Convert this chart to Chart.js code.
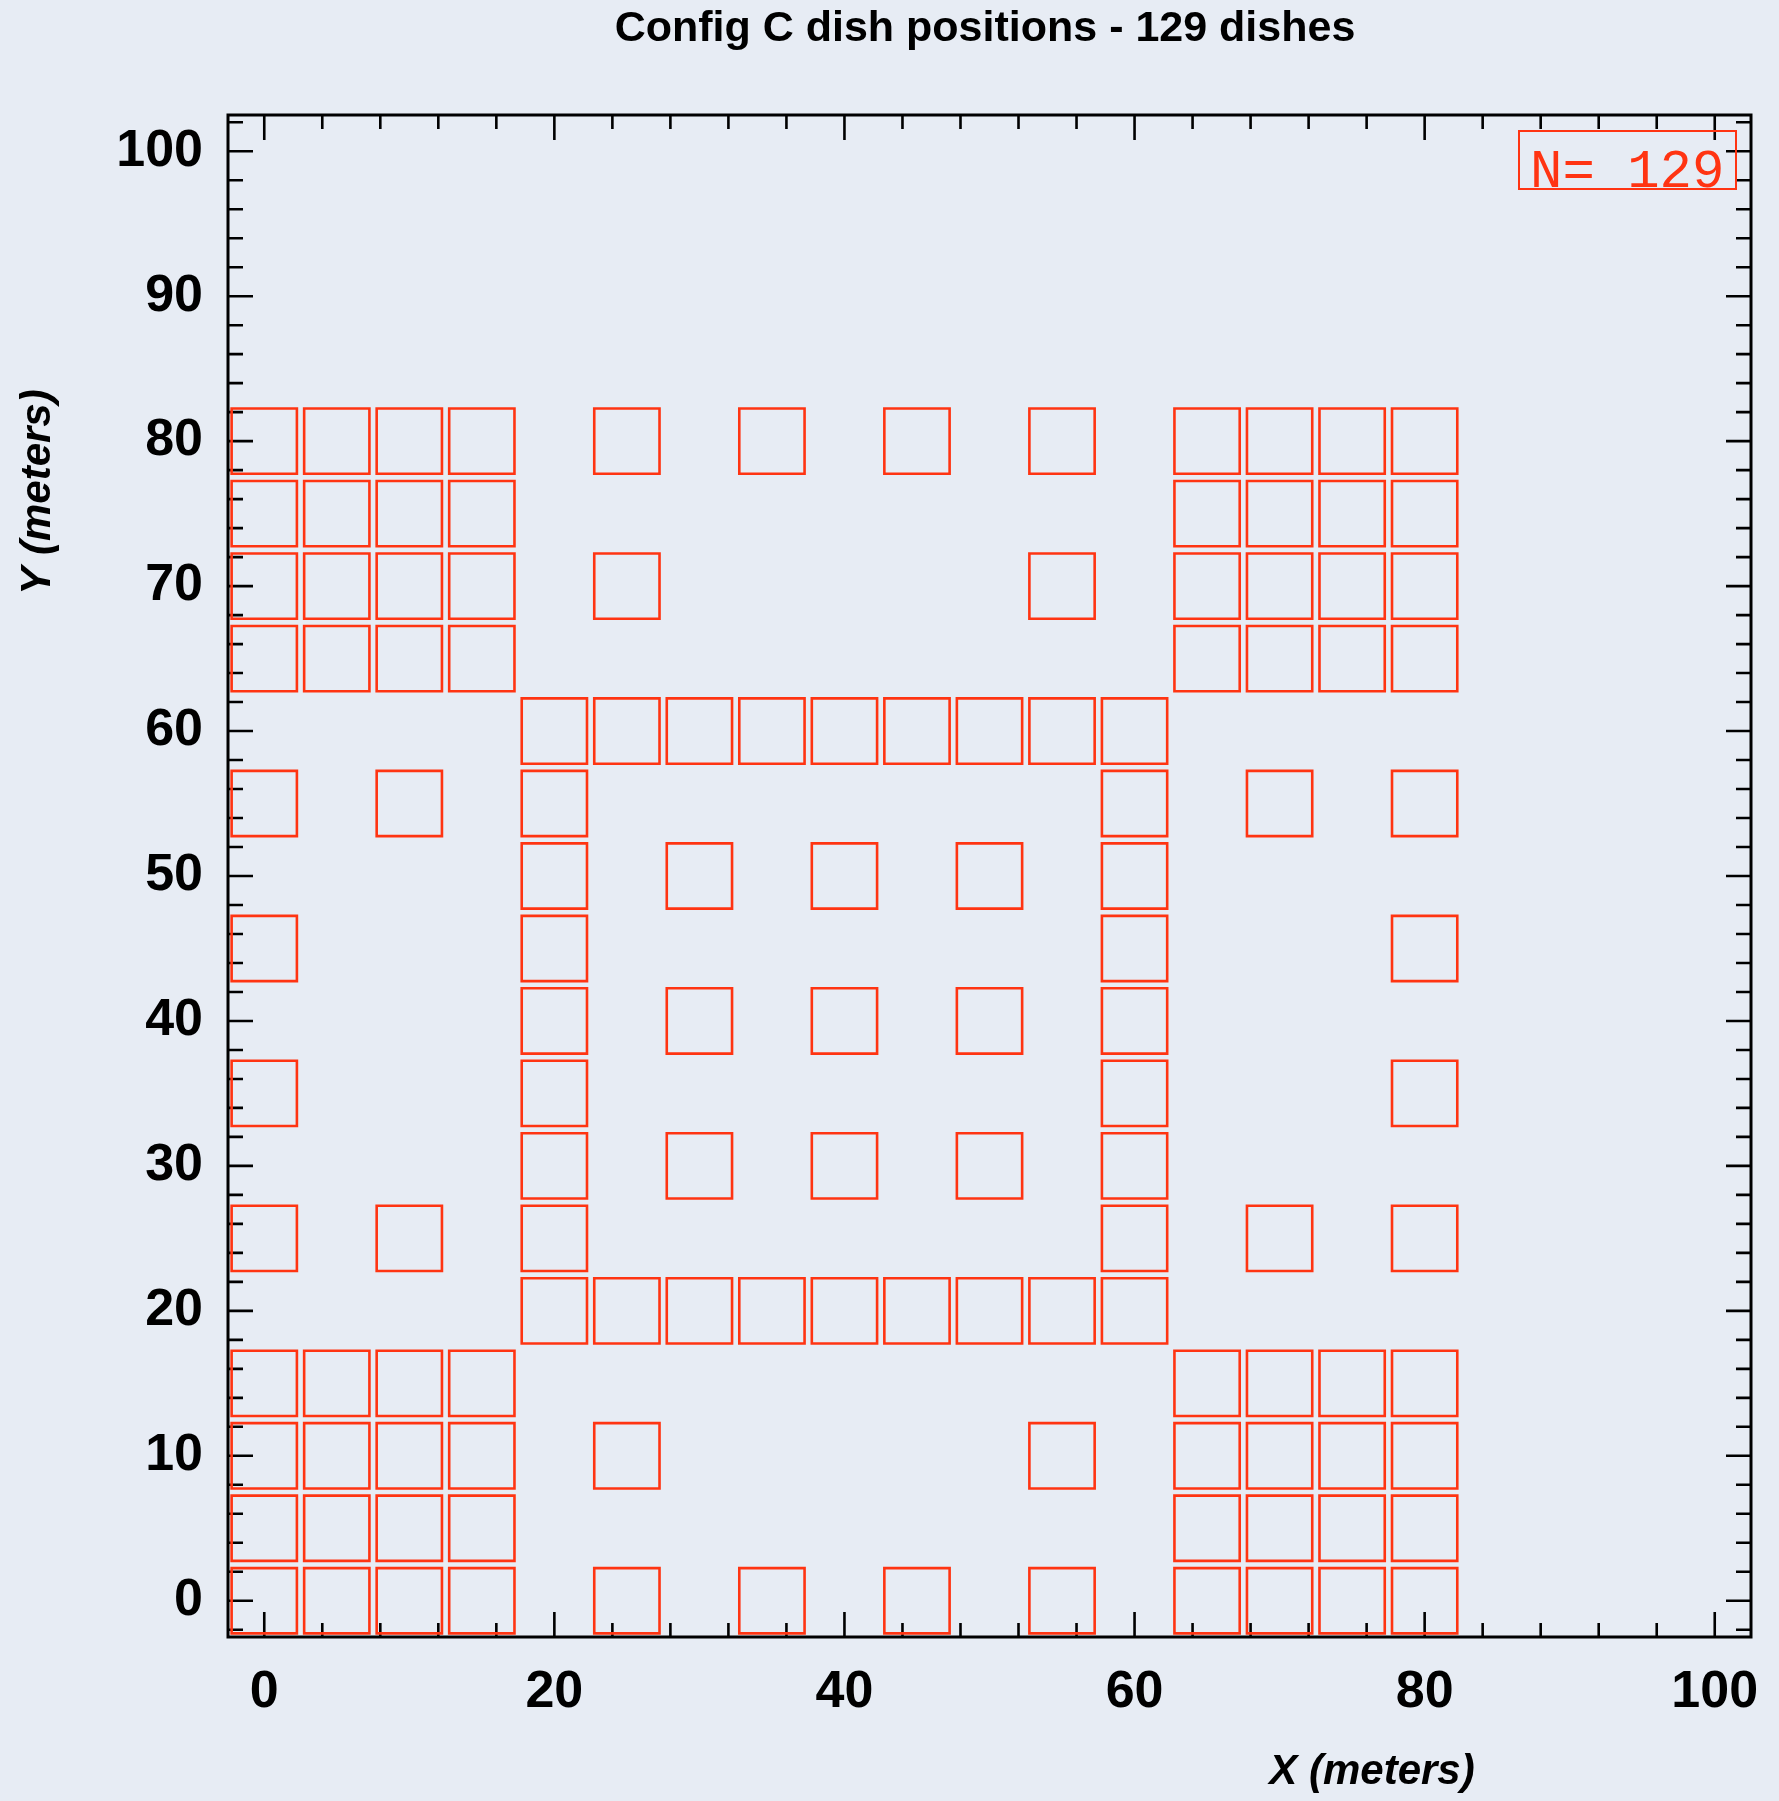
<!DOCTYPE html>
<html>
<head>
<meta charset="utf-8">
<script src="https://cdn.jsdelivr.net/npm/chart.js@4"></script>
<style>
  html, body { margin: 0; padding: 0; background: #e7ecf4; }
  canvas { display: block; }
</style>
</head>
<body>
<canvas id="dish-chart" width="1779" height="1801"></canvas>
<script>
// dish rows, top to bottom (meters)
const rowY = [80, 75, 70, 65, 60, 55, 50, 45, 40, 35, 30, 25, 20, 15, 10, 5, 0];
const rowX = [
  [0, 5, 10, 15, 25, 35, 45, 55, 65, 70, 75, 80],
  [0, 5, 10, 15, 65, 70, 75, 80],
  [0, 5, 10, 15, 25, 55, 65, 70, 75, 80],
  [0, 5, 10, 15, 65, 70, 75, 80],
  [20, 25, 30, 35, 40, 45, 50, 55, 60],
  [0, 10, 20, 60, 70, 80],
  [20, 30, 40, 50, 60],
  [0, 20, 60, 80],
  [20, 30, 40, 50, 60],
  [0, 20, 60, 80],
  [20, 30, 40, 50, 60],
  [0, 10, 20, 60, 70, 80],
  [20, 25, 30, 35, 40, 45, 50, 55, 60],
  [0, 5, 10, 15, 65, 70, 75, 80],
  [0, 5, 10, 15, 25, 55, 65, 70, 75, 80],
  [0, 5, 10, 15, 65, 70, 75, 80],
  [0, 5, 10, 15, 25, 35, 45, 55, 65, 70, 75, 80]
];
const xTickLabels = [0, 20, 40, 60, 80, 100];
const yTickLabels = [0, 10, 20, 30, 40, 50, 60, 70, 80, 90, 100];
const dishSize = 4.5; // meters, side of each square

const points = [];
rowY.forEach((y, i) => rowX[i].forEach(x => points.push({ x: x, y: y })));

const RED = '#ff3412';
const BG = '#e7ecf4';

const bgPlugin = {
  id: 'bg',
  beforeDraw(chart) {
    const c = chart.ctx;
    c.save();
    c.fillStyle = BG;
    c.fillRect(0, 0, chart.width, chart.height);
    c.restore();
  }
};

// frame + inward ticks on all four sides
const framePlugin = {
  id: 'frame',
  beforeDatasetsDraw(chart) {
    const c = chart.ctx, a = chart.chartArea;
    const xs = chart.scales.x, ys = chart.scales.y;
    c.save();
    c.strokeStyle = '#000';
    c.lineWidth = 2.6;
    for (let v = 0; v <= 100; v += 4) {
      const px = xs.getPixelForValue(v);
      const len = v % 20 === 0 ? 25 : 14;
      c.beginPath();
      c.moveTo(px, a.bottom); c.lineTo(px, a.bottom - len);
      c.moveTo(px, a.top); c.lineTo(px, a.top + len);
      c.stroke();
    }
    for (let v = -2; v <= 102; v += 2) {
      const py = ys.getPixelForValue(v);
      const len = v % 10 === 0 ? 25 : 15;
      c.beginPath();
      c.moveTo(a.left, py); c.lineTo(a.left + len, py);
      c.moveTo(a.right, py); c.lineTo(a.right - len, py);
      c.stroke();
    }
    c.lineWidth = 3;
    c.strokeRect(a.left, a.top, a.right - a.left, a.bottom - a.top);
    c.restore();
  }
};

const textPlugin = {
  id: 'texts',
  afterDraw(chart) {
    const c = chart.ctx;
    c.save();
    c.fillStyle = '#000';
    c.textAlign = 'center';
    c.textBaseline = 'middle';
    c.font = 'bold 43px "Liberation Sans", Arial, sans-serif';
    c.fillText('Config C dish positions - 129 dishes', 985, 29);
    c.font = 'italic bold 42px "Liberation Sans", Arial, sans-serif';
    c.fillText('X (meters)', 1372, 1772);
    c.save();
    c.translate(38, 492);
    c.rotate(-Math.PI / 2);
    c.fillText('Y (meters)', 0, 0);
    c.restore();
    // count box
    c.strokeStyle = RED;
    c.lineWidth = 2;
    c.strokeRect(1519, 131, 217, 58);
    c.fillStyle = RED;
    c.textAlign = 'left';
    c.textBaseline = 'alphabetic';
    c.font = '54px "Liberation Mono", "Courier New", monospace';
    c.fillText('N= ' + points.length, 1530, 187);
    c.restore();
  }
};

const sideRadius = (c) => {
  const s = c.chart.scales.x;
  const px = s.getPixelForValue(dishSize) - s.getPixelForValue(0);
  return isFinite(px) && px > 0 ? px / Math.SQRT2 : 0;
};

const ctx = document.getElementById('dish-chart').getContext('2d');
const chart = new Chart(ctx, {
  type: 'scatter',
  data: {
    datasets: [{
      data: points,
      pointStyle: 'rect',
      pointRadius: sideRadius,
      pointHoverRadius: sideRadius,
      pointBorderColor: RED,
      pointBackgroundColor: 'rgba(0,0,0,0)',
      pointBorderWidth: 2.6,
      clip: false
    }]
  },
  options: {
    responsive: false,
    animation: false,
    devicePixelRatio: 1,
    layout: { autoPadding: false, padding: { top: 115, right: 28, left: 0, bottom: 0 } },
    plugins: { legend: { display: false }, tooltip: { enabled: false } },
    scales: {
      x: {
        type: 'linear',
        min: -2.5, max: 102.5,
        afterFit(scale) { scale.height = 164; scale.paddingLeft = 0; scale.paddingRight = 0; },
        afterBuildTicks(scale) { scale.ticks = xTickLabels.map(v => ({ value: v })); },
        grid: { display: false, drawTicks: false },
        border: { display: false },
        ticks: {
          padding: 24,
          color: '#000',
          maxRotation: 0,
          font: { family: '"Liberation Sans", Arial, sans-serif', size: 52, weight: 'bold' }
        }
      },
      y: {
        type: 'linear',
        min: -2.5, max: 102.5,
        afterFit(scale) { scale.width = 228; scale.paddingTop = 0; scale.paddingBottom = 0; },
        afterBuildTicks(scale) { scale.ticks = yTickLabels.map(v => ({ value: v })); },
        grid: { display: false, drawTicks: false },
        border: { display: false },
        ticks: {
          padding: 25,
          color: '#000',
          font: { family: '"Liberation Sans", Arial, sans-serif', size: 52, weight: 'bold' }
        }
      }
    }
  },
  plugins: [bgPlugin, framePlugin, textPlugin]
});
</script>
</body>
</html>
